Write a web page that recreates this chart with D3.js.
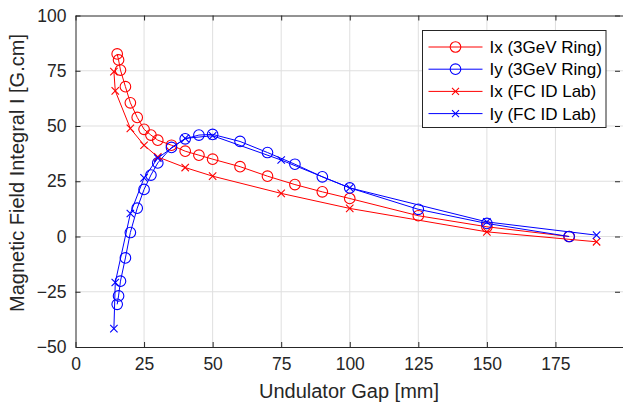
<!DOCTYPE html>
<html>
<head>
<meta charset="utf-8">
<script src="https://cdn.jsdelivr.net/npm/d3@7"></script>
<style>
  body { margin: 0; background: #fff; }
  svg { display: block; font-family: "Liberation Sans", Arial, sans-serif; }
</style>
</head>
<body>
<div id="chart"></div>
<script>
// Data
const gapRing = [15.2, 15.7, 16.4, 18.2, 20, 22.5, 25, 27.5, 30, 35, 40, 45, 50, 60, 70, 80, 90, 100, 125, 150, 180];
const ixRing = [82.6, 79.9, 75.3, 67.8, 60.5, 53.9, 48.5, 45.9, 43.6, 41.3, 38.6, 36.8, 35, 31.6, 27.3, 23.5, 20.2, 17.2, 9.4, 4.4, 0];
const iyRing = [-30.7, -26.9, -20.2, -9.7, 1.8, 12.8, 21.3, 27.8, 33.3, 40.3, 44.2, 45.9, 46.2, 43, 38, 32.7, 27, 22, 12.3, 5.9, 0];

const gapLab = [14, 14.5, 20, 25, 30, 40, 50, 75, 100, 150, 190];
const ixLab = [74.6, 65.9, 48.9, 41.3, 36, 31.2, 27.3, 19.5, 12.7, 2.1, -2.4];
const iyLab = [-41.7, -20.8, 10.4, 26.5, 35.5, 44.4, 45.6, 34.6, 22, 6.6, 0.6];

const xTicks = [0, 25, 50, 75, 100, 125, 150, 175];
const yTicks = [-50, -25, 0, 25, 50, 75, 100];

const series = [
    {name: 'Ix (3GeV Ring)', x: gapRing, y: ixRing, color: '#ff0000', marker: 'circle'},
    {name: 'Iy (3GeV Ring)', x: gapRing, y: iyRing, color: '#0000ff', marker: 'circle'},
    {name: 'Ix (FC ID Lab)', x: gapLab, y: ixLab, color: '#ff0000', marker: 'cross'},
    {name: 'Iy (FC ID Lab)', x: gapLab, y: iyLab, color: '#0000ff', marker: 'cross'}
];

const width = 623, height = 407;
const margin = {top: 15.5, right: -1, bottom: 60, left: 75.5};
const axisColor = '#262626';

const svg = d3.select('#chart')
    .append('svg')
    .attr('width', width)
    .attr('height', height);

const x = d3.scaleLinear().domain([0, 200]).range([margin.left, width - margin.right]);
const y = d3.scaleLinear().domain([-50, 100]).range([height - margin.bottom, margin.top]);

// Grid lines
const grid = svg.append('g').attr('class', 'grid');
grid.selectAll('.vgrid')
    .data(xTicks.slice(1))
    .enter()
    .append('line')
    .attr('x1', d => x(d)).attr('x2', d => x(d))
    .attr('y1', y(-50)).attr('y2', y(100))
    .attr('stroke', '#dfdfdf').attr('stroke-width', 1);
grid.selectAll('.hgrid')
    .data(yTicks.slice(1, -1))
    .enter()
    .append('line')
    .attr('x1', x(0)).attr('x2', x(200))
    .attr('y1', d => y(d)).attr('y2', d => y(d))
    .attr('stroke', '#dfdfdf').attr('stroke-width', 1);

// Series lines and markers
const line = d3.line().x(d => x(d[0])).y(d => y(d[1]));

series.forEach(s => {
    const pts = s.x.map((v, i) => [v, s.y[i]]);
    const g = svg.append('g');
    g.append('path')
        .attr('d', line(pts))
        .attr('fill', 'none')
        .attr('stroke', s.color)
        .attr('stroke-width', 1);
    if (s.marker === 'circle') {
        g.selectAll('circle')
            .data(pts)
            .enter()
            .append('circle')
            .attr('cx', d => x(d[0]))
            .attr('cy', d => y(d[1]))
            .attr('r', 5.3)
            .attr('fill', 'none')
            .attr('stroke', s.color)
            .attr('stroke-width', 1.1);
    } else {
        g.selectAll('path.mk')
            .data(pts)
            .enter()
            .append('path')
            .attr('class', 'mk')
            .attr('d', d => crossPath(x(d[0]), y(d[1]), 3.7))
            .attr('stroke', s.color)
            .attr('stroke-width', 1.1);
    }
});

function crossPath(cx, cy, r) {
    return `M${cx - r},${cy - r}L${cx + r},${cy + r}M${cx - r},${cy + r}L${cx + r},${cy - r}`;
}

// Axes (box with inward ticks)
const xAxis = svg.append('g')
    .attr('transform', `translate(0,${y(-50)})`)
    .call(d3.axisBottom(x).tickValues(xTicks).tickSizeInner(-5).tickSizeOuter(0).tickPadding(11));
const xAxisTop = svg.append('g')
    .attr('transform', `translate(0,${y(100)})`)
    .call(d3.axisTop(x).tickValues(xTicks).tickSizeInner(-5).tickSizeOuter(0).tickFormat(''));
const yAxis = svg.append('g')
    .attr('transform', `translate(${x(0)},0)`)
    .call(d3.axisLeft(y).tickValues(yTicks).tickSizeInner(-5).tickSizeOuter(0).tickPadding(9));
const yAxisRight = svg.append('g')
    .attr('transform', `translate(${x(200) - 4},0)`)
    .call(d3.axisRight(y).tickValues(yTicks).tickSizeInner(-5).tickSizeOuter(0).tickFormat(''));

[xAxis, xAxisTop, yAxis, yAxisRight].forEach(a => {
    a.select('.domain').attr('stroke', axisColor);
    a.selectAll('.tick line').attr('stroke', axisColor);
    a.selectAll('.tick text')
        .attr('fill', '#262626')
        .style('font-size', '17.5px')
        .style('font-family', '"Liberation Sans", Arial, sans-serif');
});
yAxisRight.select('.domain').remove();
xAxis.selectAll('.tick text').attr('dy', '0.71em');

// Axis labels
svg.append('text')
    .attr('x', 349)
    .attr('y', 398)
    .attr('text-anchor', 'middle')
    .attr('fill', '#262626')
    .style('font-size', '20px')
    .text('Undulator Gap [mm]');

svg.append('text')
    .attr('transform', 'rotate(-90)')
    .attr('x', -173)
    .attr('y', 24)
    .attr('text-anchor', 'middle')
    .attr('fill', '#262626')
    .style('font-size', '20px')
    .text('Magnetic Field Integral I [G.cm]');

// Legend
const legend = svg.append('g').attr('transform', 'translate(422.5,30.5)');
legend.append('rect')
    .attr('width', 183.5)
    .attr('height', 97)
    .attr('fill', '#fff')
    .attr('stroke', axisColor)
    .attr('stroke-width', 1);

series.forEach((s, i) => {
    const ly = 16.5 + i * 22.2;
    const row = legend.append('g');
    row.append('line')
        .attr('x1', 6).attr('x2', 60)
        .attr('y1', ly).attr('y2', ly)
        .attr('stroke', s.color).attr('stroke-width', 1);
    if (s.marker === 'circle') {
        row.append('circle')
            .attr('cx', 33).attr('cy', ly).attr('r', 5.3)
            .attr('fill', 'none').attr('stroke', s.color).attr('stroke-width', 1.1);
    } else {
        row.append('path')
            .attr('d', crossPath(33, ly, 3.5))
            .attr('stroke', s.color).attr('stroke-width', 1.1);
    }
    row.append('text')
        .attr('x', 67)
        .attr('y', ly)
        .attr('dy', '0.35em')
        .attr('fill', '#000')
        .style('font-size', '17px')
        .text(s.name);
});
</script>
</body>
</html>
